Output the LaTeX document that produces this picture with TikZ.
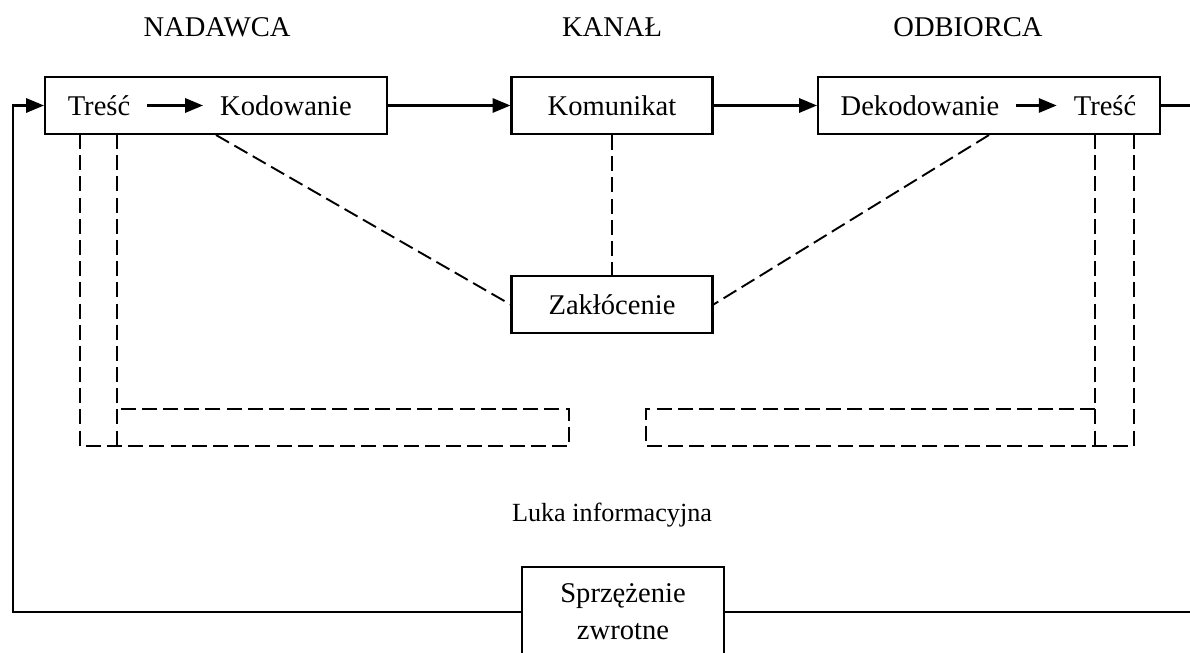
\documentclass[tikz,border=0pt]{standalone}
\usepackage{fontspec}
\setmainfont{Liberation Serif}
\usetikzlibrary{
  arrows.meta,   % Filled triangle tips
  positioning    % Relative placement
}

\tikzset{
  blok/.style={draw, line width=0.9pt, inner sep=0pt, minimum height=23.9pt, font=\fontsize{12}{14}\selectfont},
  napis/.style={inner sep=0pt, font=\fontsize{12}{14}\selectfont},
  wnetrze/.style={inner xsep=7pt, inner ysep=0pt, font=\fontsize{12}{14}\selectfont},
  linia/.style={line width=0.9pt},
  przerywana/.style={line width=0.8pt, dash pattern=on 6.3pt off 2.6pt}
}

\begin{document}
\begin{tikzpicture}[x=0.42pt, y=-0.42pt, >={Triangle[length=7.5pt, width=6pt]}]
                \useasboundingbox (0,0) rectangle (1190,653);

                % Headings of the three parts
                \node[napis] (naglnad) at (217,27) {NADAWCA};
                \node[napis] (naglkan) at (612,27) {KANAŁ};
                \node[napis] (naglodb) at (968,27) {ODBIORCA};

                % Sender box with its two steps
                \node[blok, minimum width=143.6pt] (nadawca) at (216,105.5) {};
                \node[wnetrze] (tresc1) at (99,105.5) {Treść};
                \node[wnetrze] (kodowanie) at (286,105.5) {Kodowanie};
                \draw[linia, ->] (tresc1) -- (kodowanie);

                % Channel box
                \node[blok, minimum width=84.4pt] (komunikat) at (612,105.5) {Komunikat};

                % Receiver box with its two steps
                \node[blok, minimum width=143.6pt] (odbiorca) at (989,105.5) {};
                \node[wnetrze] (dekodowanie) at (920,105.5) {Dekodowanie};
                \node[wnetrze] (tresc2) at (1105,105.5) {Treść};
                \draw[linia, ->] (dekodowanie) -- (tresc2);

                % Noise box
                \node[blok, minimum width=84.4pt] (zaklocenie) at (612,304.5) {Zakłócenie};

                % Feedback box
                \node[blok, minimum width=84.8pt, minimum height=37.8pt, align=center,
                      font=\fontsize{12}{15.5}\selectfont] (sprzezenie) at (623,612) {Sprzężenie\\zwrotne};

                % Gap label
                \node[napis, font=\fontsize{11}{13}\selectfont] (luka) at (612,515) {Luka informacyjna};

                % Main flow
                \draw[linia, ->] (nadawca) -- (komunikat);
                \draw[linia, ->] (komunikat) -- (odbiorca);

                % Feedback loop
                \coordinate (lewy) at (12.7,612);
                \coordinate (prawy) at (1197,612);
                \draw[linia, ->] (sprzezenie.west) -- (lewy) |- (nadawca.west);
                \draw[linia] (odbiorca.east) -| (prawy) -- (sprzezenie.east);

                % Noise links
                \draw[przerywana] (nadawca.south) -- (zaklocenie.west);
                \draw[przerywana] (komunikat.south) -- (zaklocenie.north);
                \draw[przerywana] (odbiorca.south) -- (zaklocenie.east);

                % Gap frames under sender
                \draw[przerywana] (80,134) -- (80,446) -- (569,446) -- (569,409) -- (117,409);
                \draw[przerywana] (117,134) -- (117,446);

                % Gap frames under receiver
                \draw[przerywana] (1134,134) -- (1134,446) -- (646,446) -- (646,409) -- (1095,409);
                \draw[przerywana] (1095,134) -- (1095,446);
            \end{tikzpicture}
\end{document}
